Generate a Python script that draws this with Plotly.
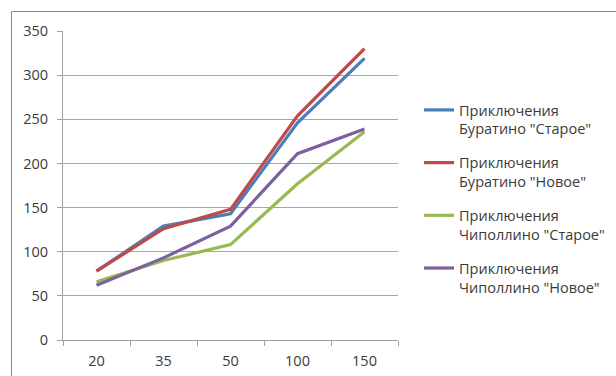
import plotly.graph_objects as go

categories = ["20", "35", "50", "100", "150"]
series_names = [
    'Приключения<br>Буратино "Старое"',
    'Приключения<br>Буратино "Новое"',
    'Приключения<br>Чиполлино "Старое"',
    'Приключения<br>Чиполлино "Новое"',
]
buratino_old = [78, 129, 143, 246, 319]
buratino_new = [78, 126, 148, 254, 330]
cipollino_old = [66, 90, 108, 177, 236]
cipollino_new = [62, 93, 129, 211, 239]
y_ticks = [0, 50, 100, 150, 200, 250, 300, 350]

colors = ["#4A7EBB", "#BE4B48", "#98B954", "#7D60A0"]
all_series = [buratino_old, buratino_new, cipollino_old, cipollino_new]

W, H = 616, 376
L, R, T, B = 63, 398, 31, 340

fig = go.Figure()
for i, (name, vals) in enumerate(zip(series_names, all_series)):
    fig.add_trace(go.Scatter(
        x=categories, y=vals, name=name, mode="lines",
        line=dict(color=colors[i], width=3.2),
        legendgroup=f"g{i}",
    ))

font = "Open Sans, Noto Sans, sans-serif"
fig.update_layout(
    width=W, height=H,
    margin=dict(l=L, r=W - R, t=T, b=H - B, pad=0, autoexpand=False),
    paper_bgcolor="white", plot_bgcolor="white",
    font=dict(family=font, size=14, color="#3a3a3a"),
    showlegend=True,
    legend=dict(
        x=(419 - L) / (R - L), y=(B - 94) / (B - T), xanchor="left", yanchor="top",
        font=dict(family=font, size=14.5, color="#3a3a3a"),
        valign="top", tracegroupgap=12, itemwidth=30,
        bgcolor="rgba(0,0,0,0)",
    ),
    xaxis=dict(
        type="category", tickson="boundaries", ticks="outside", ticklen=5,
        tickcolor="#a0a0a0", showline=True, linecolor="#a0a0a0", linewidth=1,
        showgrid=False, zeroline=False, range=[-0.5, 4.5], automargin=False,
        tickfont=dict(size=14.5), ticklabelstandoff=8,
    ),
    yaxis=dict(
        range=[0, 350], tickvals=y_ticks, ticks="outside", ticklen=5,
        tickcolor="#a0a0a0", showline=True, linecolor="#a0a0a0", linewidth=1,
        showgrid=True, gridcolor="#a6a6a6", gridwidth=1, zeroline=False,
        automargin=False, tickfont=dict(size=14.5), ticklabelstandoff=6,
    ),
    shapes=[dict(
        type="rect", xref="paper", yref="paper",
        x0=(11.5 - L) / (R - L), x1=(W + 20 - L) / (R - L),
        y0=(B - (H + 20)) / (B - T), y1=(B - 11.5) / (B - T),
        line=dict(color="#8a8a8a", width=1), layer="below",
    )],
)

fig.write_html("out.html")
